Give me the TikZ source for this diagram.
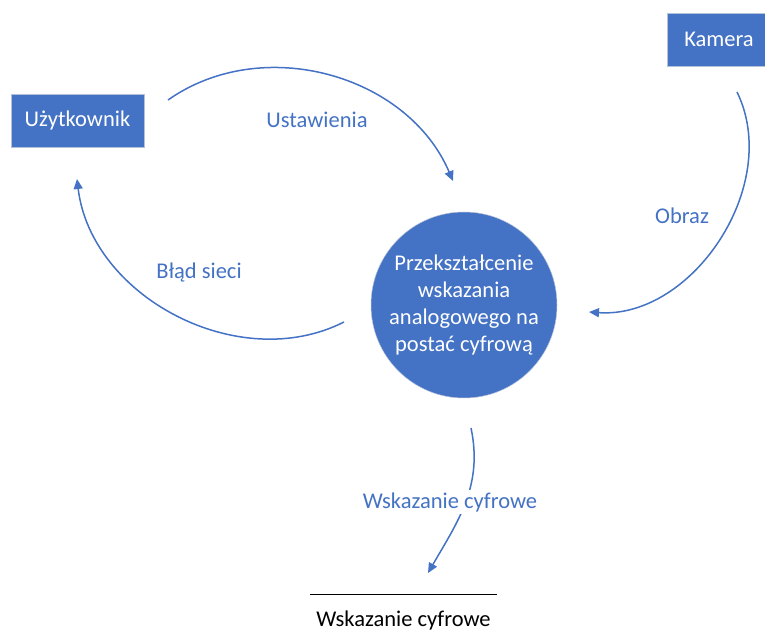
\documentclass[tikz,border=0pt]{standalone}
\usepackage{fontspec}
\setmainfont{Carlito}
\usetikzlibrary{arrows.meta}
\definecolor{officeblue}{HTML}{4472C4}
\definecolor{boxline}{HTML}{B4C1D9}

\begin{document}
\begin{tikzpicture}[x=1pt,y=1pt,font=\fontsize{22.5}{27}\selectfont,
    box/.style={draw=boxline,line width=0.8pt,fill=officeblue,text=white,minimum height=53pt},
    flow/.style={draw=officeblue,line width=1.5pt,-{Triangle[length=10pt,width=9pt]}},
    flowlabel/.style={text=officeblue,inner sep=2pt}]
  \useasboundingbox (0,0) rectangle (765,641);
  % outside parts
  \node[box,minimum width=133pt] (user) at (77.5,520.5) {Użytkownik};
  \node[box,minimum width=104pt] (camera) at (719,601.5) {Kamera};
  % process
  \node[circle,fill=officeblue,draw=boxline,line width=0.5pt,text=white,minimum size=186pt,align=center,inner sep=0pt]
    (proc) at (464,336) {Przekształcenie\\wskazania\\analogowego na\\postać cyfrową};
  % flow ends
  \coordinate (set a) at (168,541);  \coordinate (set b) at (453,460);
  \coordinate (err a) at (344,319);  \coordinate (err b) at (77,462);
  \coordinate (img a) at (737,549);  \coordinate (img b) at (589,329);
  \coordinate (out a) at (471,213);  \coordinate (out b) at (428,68);
  % flows
  \draw[flow] (set a) to[bend left=51] (set b);
  \draw[flow] (err a) to[bend left=55] (err b);
  \draw[flow] (img a) to[bend left=60] (img b);
  \draw[flow] (out a) to[out=-78,in=60] (out b);
  \node[flowlabel] (set label) at (317,521) {Ustawienia};
  \node[flowlabel] (err label) at (199,368) {Błąd sieci};
  \node[flowlabel] (img label) at (682,425) {Obraz};
  \node[flowlabel,fill=white] (out label) at (450,139) {Wskazanie cyfrowe};
  % data store
  \coordinate (store a) at (310,47); \coordinate (store b) at (497,47);
  \draw[line width=1pt] (store a) -- (store b);
  \node[anchor=base] (store) at (403.5,14.5) {Wskazanie cyfrowe};
\end{tikzpicture}
\end{document}
